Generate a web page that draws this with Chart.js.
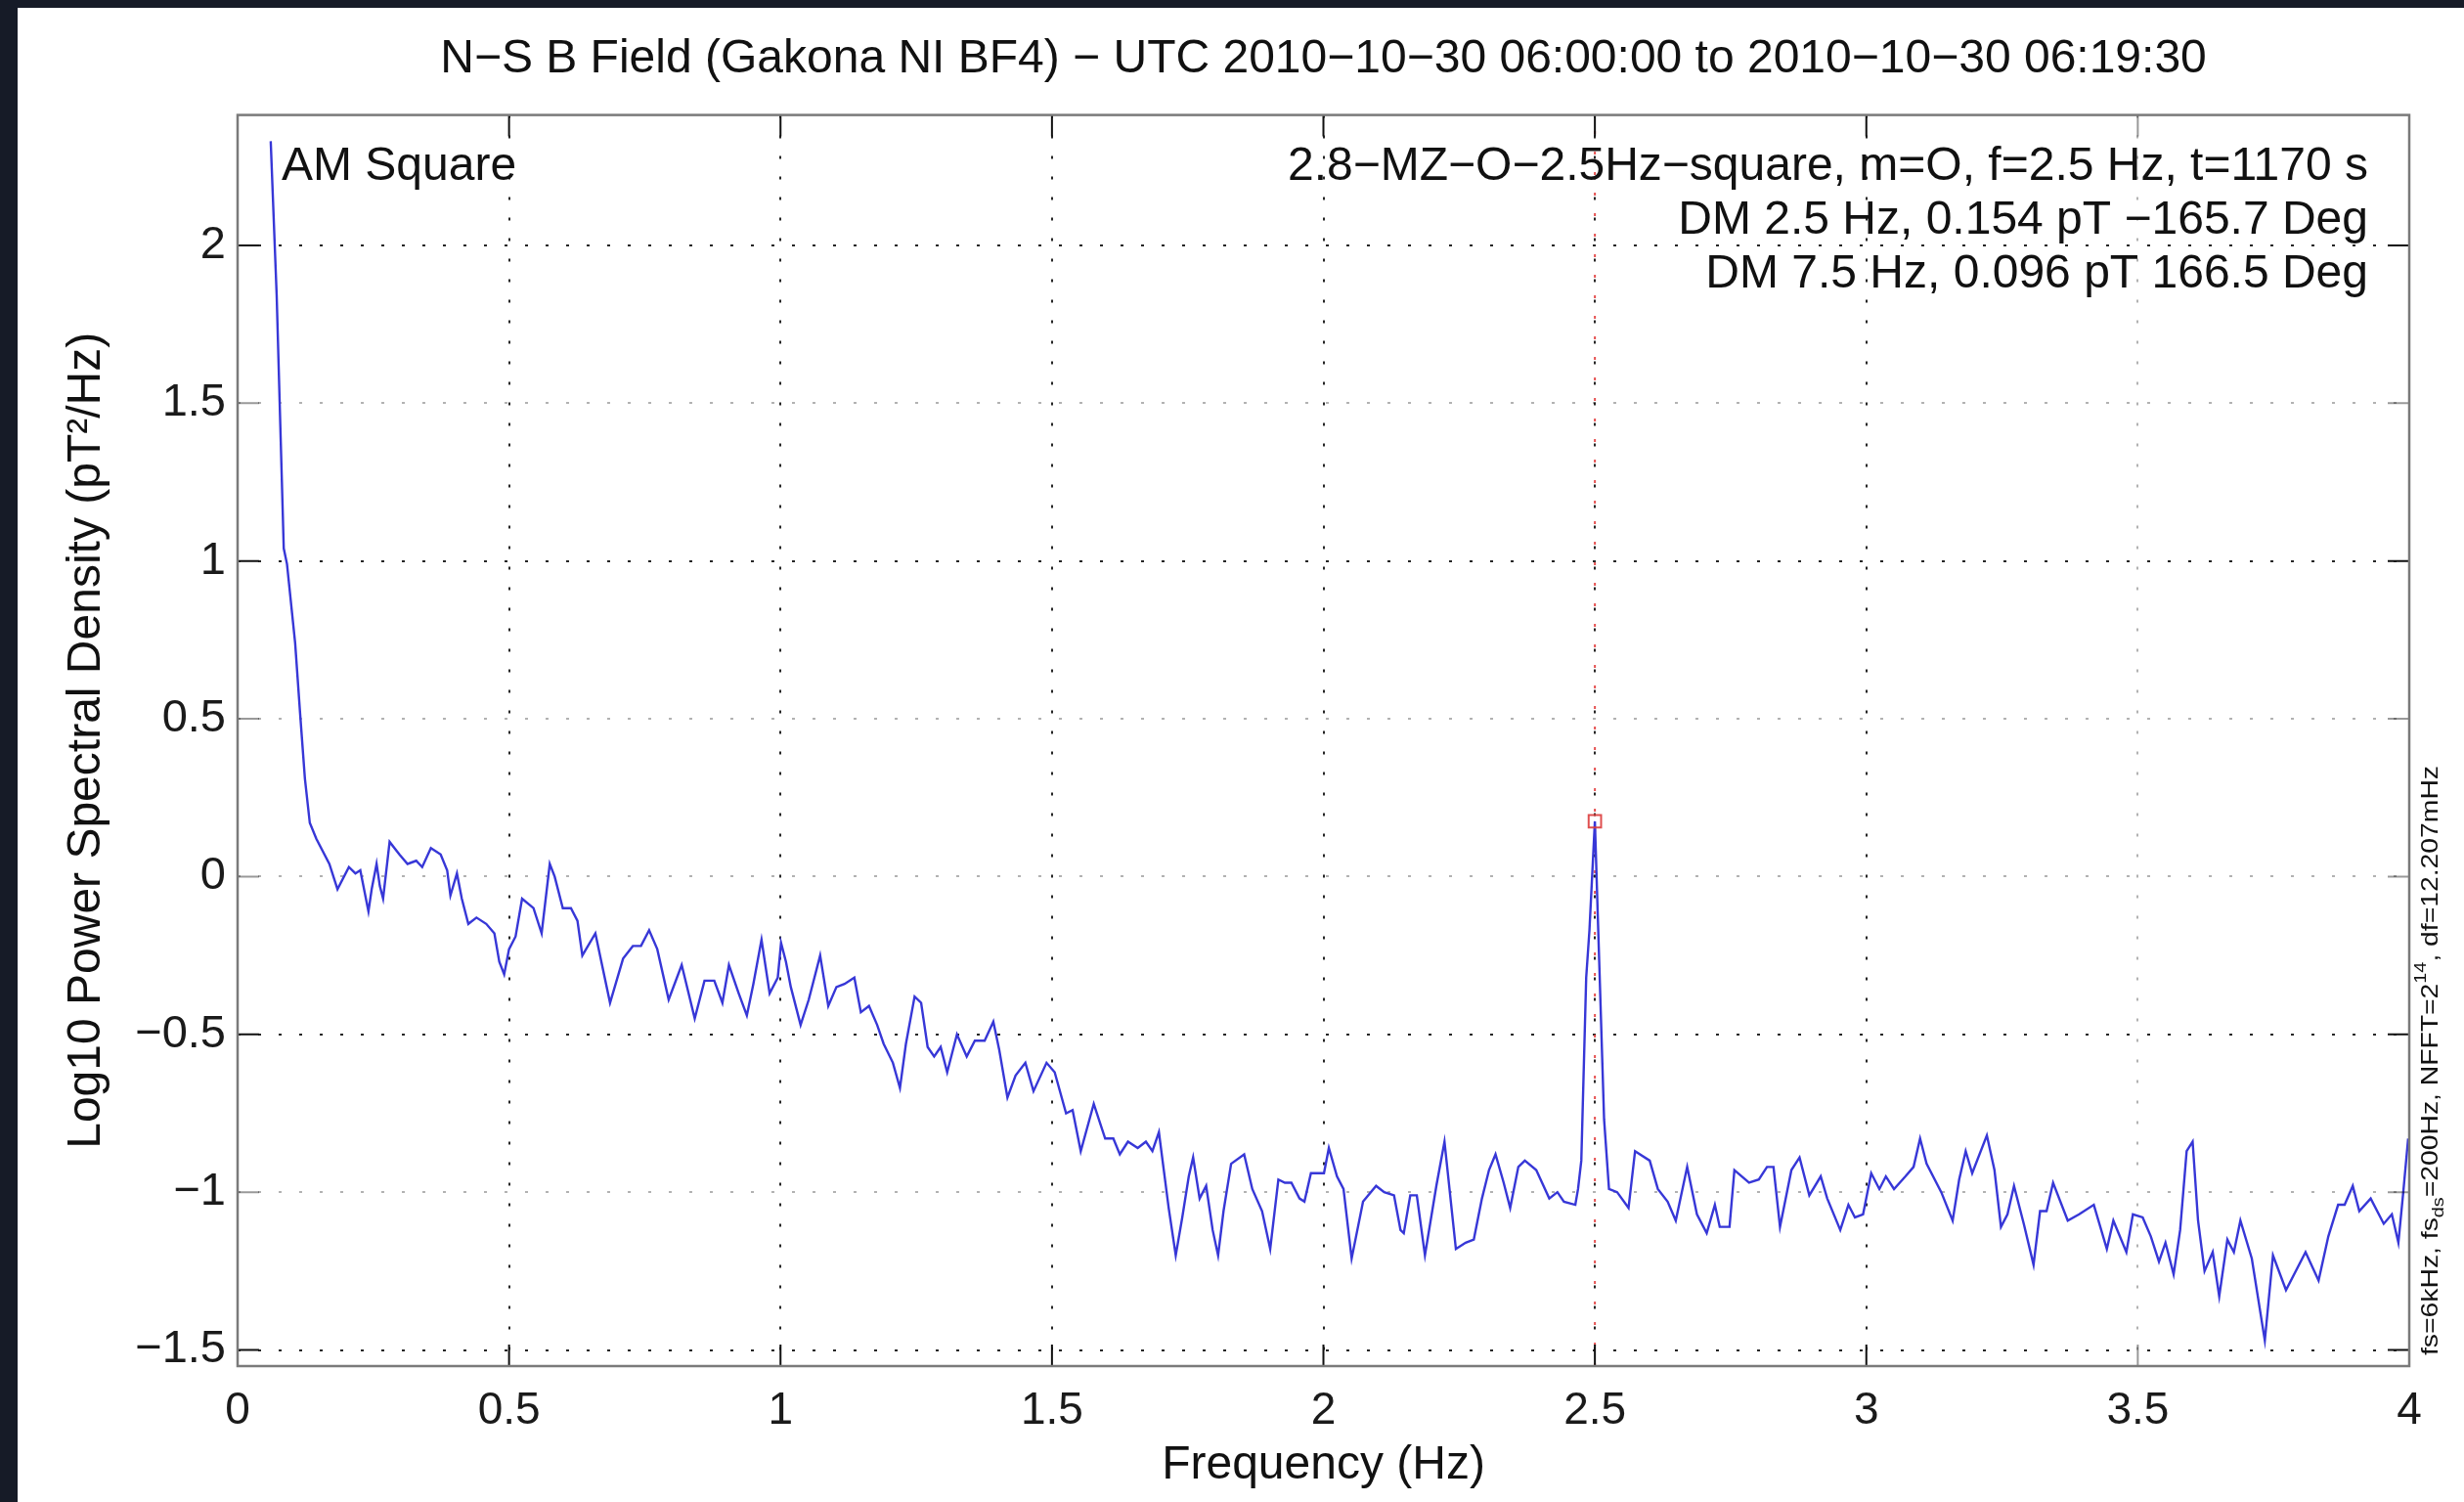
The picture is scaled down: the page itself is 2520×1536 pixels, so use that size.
<!DOCTYPE html>
<html><head><meta charset="utf-8">
<script src="https://cdn.jsdelivr.net/npm/chart.js@4"></script>
<style>
html,body{margin:0;padding:0;background:#161b27;width:2520px;height:1536px;overflow:hidden}
#c{position:absolute;left:18px;top:8px;background:#fff}
</style></head><body>
<canvas id="c" width="2502" height="1528"></canvas>
<script>
// ---- data ----
const freqHz = [
0.061,0.072,0.085,0.091,0.106,0.115,0.124,0.133,0.145,0.169,0.184,0.205,0.217,0.226,0.241,0.247,0.256,0.262,0.268,0.280,
0.298,0.313,0.329,0.340,0.356,0.374,0.386,0.392,0.404,0.413,0.425,0.440,0.458,0.473,0.482,0.491,0.500,0.512,0.524,0.545,
0.560,0.575,0.584,0.599,0.614,0.626,0.635,0.659,0.686,0.710,0.728,0.743,0.758,0.773,0.794,0.818,0.842,0.860,0.878,0.893,
0.905,0.923,0.938,0.950,0.965,0.980,0.995,1.001,1.010,1.019,1.037,1.052,1.073,1.088,1.103,1.118,1.136,1.148,1.163,1.178,
1.190,1.207,1.220,1.231,1.247,1.259,1.271,1.283,1.295,1.307,1.325,1.343,1.358,1.376,1.392,1.403,1.418,1.433,1.451,1.466,
1.490,1.505,1.526,1.538,1.553,1.577,1.598,1.613,1.625,1.640,1.658,1.673,1.685,1.697,1.706,1.715,1.728,1.740,1.752,1.760,
1.772,1.784,1.796,1.806,1.816,1.830,1.854,1.869,1.887,1.902,1.917,1.929,1.941,1.956,1.965,1.977,2.001,2.010,2.025,2.037,
2.052,2.073,2.097,2.112,2.130,2.142,2.148,2.160,2.172,2.187,2.208,2.223,2.244,2.262,2.277,2.292,2.305,2.317,2.332,2.344,
2.359,2.371,2.392,2.416,2.431,2.443,2.464,2.469,2.475,2.484,2.490,2.500,2.508,2.517,2.526,2.541,2.562,2.574,2.601,2.616,
2.634,2.649,2.670,2.688,2.706,2.721,2.730,2.748,2.757,2.784,2.802,2.817,2.829,2.841,2.862,2.877,2.895,2.916,2.928,2.952,
2.967,2.979,2.994,3.009,3.024,3.036,3.051,3.072,3.087,3.099,3.111,3.138,3.159,3.171,3.183,3.195,3.222,3.236,3.248,3.260,
3.272,3.290,3.308,3.320,3.332,3.344,3.371,3.392,3.419,3.443,3.455,3.479,3.491,3.509,3.524,3.539,3.551,3.566,3.578,3.590,
3.601,3.611,3.623,3.638,3.650,3.665,3.677,3.689,3.710,3.734,3.749,3.773,3.809,3.833,3.851,3.869,3.881,3.896,3.908,3.929,
3.953,3.968,3.980,3.989,3.998];
const psdLog10 = [
2.33,1.84,1.04,0.99,0.74,0.52,0.31,0.17,0.12,0.04,-0.04,0.03,0.01,0.02,-0.11,-0.04,0.04,-0.03,-0.07,0.11,
0.07,0.04,0.05,0.03,0.09,0.07,0.02,-0.06,0.01,-0.07,-0.15,-0.13,-0.15,-0.18,-0.27,-0.31,-0.23,-0.19,-0.07,-0.10,
-0.18,0.04,0.00,-0.10,-0.10,-0.14,-0.25,-0.18,-0.40,-0.26,-0.22,-0.22,-0.17,-0.23,-0.39,-0.28,-0.45,-0.33,-0.33,-0.40,
-0.28,-0.37,-0.44,-0.34,-0.20,-0.37,-0.32,-0.21,-0.27,-0.35,-0.47,-0.39,-0.25,-0.41,-0.35,-0.34,-0.32,-0.43,-0.41,-0.47,
-0.53,-0.59,-0.67,-0.53,-0.38,-0.40,-0.54,-0.57,-0.54,-0.62,-0.50,-0.57,-0.52,-0.52,-0.46,-0.55,-0.70,-0.63,-0.59,-0.68,
-0.59,-0.62,-0.75,-0.74,-0.87,-0.72,-0.83,-0.83,-0.88,-0.84,-0.86,-0.84,-0.87,-0.81,-0.93,-1.05,-1.20,-1.08,-0.95,-0.89,
-1.02,-0.98,-1.12,-1.20,-1.06,-0.91,-0.88,-0.99,-1.06,-1.18,-0.96,-0.97,-0.97,-1.02,-1.03,-0.94,-0.94,-0.86,-0.95,-0.99,
-1.21,-1.03,-0.98,-1.00,-1.01,-1.12,-1.13,-1.01,-1.01,-1.20,-0.98,-0.84,-1.18,-1.16,-1.15,-1.02,-0.93,-0.88,-0.97,-1.05,
-0.92,-0.90,-0.93,-1.02,-1.00,-1.03,-1.04,-0.99,-0.90,-0.32,-0.17,0.175,-0.27,-0.77,-0.99,-1.00,-1.05,-0.87,-0.90,-0.99,
-1.03,-1.09,-0.92,-1.07,-1.13,-1.04,-1.11,-1.11,-0.93,-0.97,-0.96,-0.92,-0.92,-1.11,-0.93,-0.89,-1.01,-0.95,-1.02,-1.12,
-1.04,-1.08,-1.07,-0.94,-0.99,-0.95,-0.99,-0.95,-0.92,-0.83,-0.91,-1.00,-1.09,-0.96,-0.87,-0.94,-0.82,-0.93,-1.11,-1.07,
-0.98,-1.10,-1.23,-1.06,-1.06,-0.97,-1.09,-1.07,-1.04,-1.18,-1.09,-1.19,-1.07,-1.08,-1.14,-1.22,-1.16,-1.26,-1.12,-0.87,
-0.84,-1.09,-1.25,-1.19,-1.33,-1.15,-1.19,-1.09,-1.21,-1.47,-1.20,-1.31,-1.19,-1.28,-1.14,-1.04,-1.04,-0.98,-1.06,-1.02,
-1.10,-1.07,-1.16,-1.00,-0.83];
const peakFreq = [2.5];
const peakPsd = [0.175];
const xTickValues = [0, 0.5, 1, 1.5, 2, 2.5, 3, 3.5, 4];
const yTickValues = [-1.5, -1, -0.5, 0, 0.5, 1, 1.5, 2];
const xRange = [0, 4];
const yRange = [-1.551, 2.413];
const titleText = 'N−S B Field (Gakona NI BF4) − UTC 2010−10−30 06:00:00 to 2010−10−30 06:19:30';
const xLabel = 'Frequency (Hz)';
const yLabel = 'Log10 Power Spectral Density (pT²/Hz)';
const cornerLabel = 'AM Square';
const infoLines = ['2.8−MZ−O−2.5Hz−square, m=O, f=2.5 Hz, t=1170 s', 'DM 2.5 Hz, 0.154 pT −165.7 Deg', 'DM 7.5 Hz, 0.096 pT 166.5 Deg'];
const sideNote = [['fs=6kHz, fs', 'n'], ['ds', 'sub'], ['=200Hz, NFFT=2', 'n'], ['14', 'sup'], [', df=12.207mHz', 'n']];
// light (faded) grid lines as they appear in the reference
const lightYGrid = [1.5, 0.5, 0, -1];
const lightXGrid = [3.5];

const FONT = '"Liberation Sans", Arial, Helvetica, sans-serif';
const fmt = v => (v < 0 ? '−' + String(-v) : String(v));
const gridCol = list => c => (c.tick && list.includes(c.tick.value)) ? 'rgba(0,0,0,0.30)' : 'rgba(0,0,0,0.85)';

const decor = {
  id: 'decor',
  afterDraw(chart) {
    const {ctx, chartArea: a, scales: {x, y}} = chart;
    ctx.save();
    const TL = 22;
    ctx.lineWidth = 2;
    // inside tick marks on all four sides
    x.ticks.forEach(t => {
      const px = x.getPixelForValue(t.value);
      ctx.strokeStyle = lightXGrid.includes(t.value) ? 'rgba(0,0,0,0.4)' : '#111';
      ctx.beginPath();
      ctx.moveTo(px, a.bottom); ctx.lineTo(px, a.bottom - TL);
      ctx.moveTo(px, a.top); ctx.lineTo(px, a.top + TL);
      ctx.stroke();
    });
    y.ticks.forEach(t => {
      const py = y.getPixelForValue(t.value);
      ctx.strokeStyle = lightYGrid.includes(t.value) ? 'rgba(0,0,0,0.4)' : '#111';
      ctx.beginPath();
      ctx.moveTo(a.left, py); ctx.lineTo(a.left + TL, py);
      ctx.moveTo(a.right, py); ctx.lineTo(a.right - TL, py);
      ctx.stroke();
    });
    // axes box
    ctx.strokeStyle = '#7a7a7a';
    ctx.lineWidth = 2.5;
    ctx.strokeRect(a.left, a.top, a.right - a.left, a.bottom - a.top);
    // text annotations
    ctx.fillStyle = '#111';
    ctx.font = '48px ' + FONT;
    ctx.textBaseline = 'middle';
    ctx.textAlign = 'left';
    ctx.fillText(cornerLabel, a.left + 45, a.top + 53);
    ctx.textAlign = 'right';
    infoLines.forEach((s, i) => ctx.fillText(s, a.right - 42, a.top + 53 + i * 55));
    // rotated side note
    ctx.translate(a.right + 22, a.bottom - 11);
    ctx.rotate(-Math.PI / 2);
    ctx.textAlign = 'left';
    const base = 24;
    const fontFor = k => (k === 'n' ? base : base * 0.7) + 'px ' + FONT;
    let w = 0;
    sideNote.forEach(([s, k]) => { ctx.font = fontFor(k); w += ctx.measureText(s).width; });
    const sc = 603 / w;
    ctx.scale(sc, 1);
    let px = 0;
    sideNote.forEach(([s, k]) => {
      ctx.font = fontFor(k);
      const dy = k === 'sub' ? base * 0.35 : (k === 'sup' ? -base * 0.4 : 0);
      ctx.fillText(s, px, dy);
      px += ctx.measureText(s).width;
    });
    ctx.restore();
  }
};

new Chart(document.getElementById('c'), {
  type: 'line',
  data: {
    datasets: [
      {
        data: freqHz.map((f, i) => ({x: f, y: psdLog10[i]})),
        borderColor: 'rgb(55,55,215)', borderWidth: 2.4, pointRadius: 0, tension: 0, order: 1
      },
      {
        data: [{x: peakFreq[0], y: yRange[0]}, {x: peakFreq[0], y: yRange[1]}],
        borderColor: 'rgba(225,50,50,0.85)', borderWidth: 2, borderDash: [3, 18], pointRadius: 0, order: 2
      },
      {
        data: peakFreq.map((f, i) => ({x: f, y: peakPsd[i]})),
        showLine: false, pointStyle: 'rect', pointRadius: 9, borderWidth: 2,
        borderColor: 'rgba(220,60,60,0.9)', backgroundColor: 'rgba(0,0,0,0)', order: 0
      }
    ]
  },
  options: {
    responsive: false, animation: false, devicePixelRatio: 1,
    layout: {padding: {left: 0, right: 56, top: 0, bottom: 0}},
    plugins: {
      legend: {display: false}, tooltip: {enabled: false},
      title: {
        display: true, text: titleText, fullSize: false, color: '#111',
        font: {family: FONT, size: 48, weight: 'normal', lineHeight: 1.2},
        padding: {top: 24, bottom: 28}
      }
    },
    scales: {
      x: {
        type: 'linear', min: xRange[0], max: xRange[1],
        afterBuildTicks: s => { s.ticks = xTickValues.map(v => ({value: v})); },
        afterFit: s => { s.height = 139; },
        ticks: {font: {family: FONT, size: 46}, color: '#1a1a1a', padding: 19, maxRotation: 0, autoSkip: false, callback: v => fmt(v)},
        grid: {drawTicks: false, lineWidth: 2, color: gridCol(lightXGrid)},
        border: {display: false, dash: [3, 18]},
        title: {display: true, text: xLabel, color: '#111', font: {family: FONT, size: 48, lineHeight: 1.2}, padding: {top: 0, bottom: 8}}
      },
      y: {
        type: 'linear', min: yRange[0], max: yRange[1],
        afterBuildTicks: s => { s.ticks = yTickValues.map(v => ({value: v})); },
        afterFit: s => { s.width = 225; },
        ticks: {font: {family: FONT, size: 47}, color: '#1a1a1a', padding: 12, autoSkip: false, callback: v => fmt(v)},
        grid: {drawTicks: false, lineWidth: 2, color: gridCol(lightYGrid)},
        border: {display: false, dash: [3, 18]},
        title: {display: true, text: yLabel, color: '#111', font: {family: FONT, size: 48, lineHeight: 1.2}, padding: {top: 42, bottom: 0}}
      }
    }
  },
  plugins: [decor]
});
</script>
</body></html>
